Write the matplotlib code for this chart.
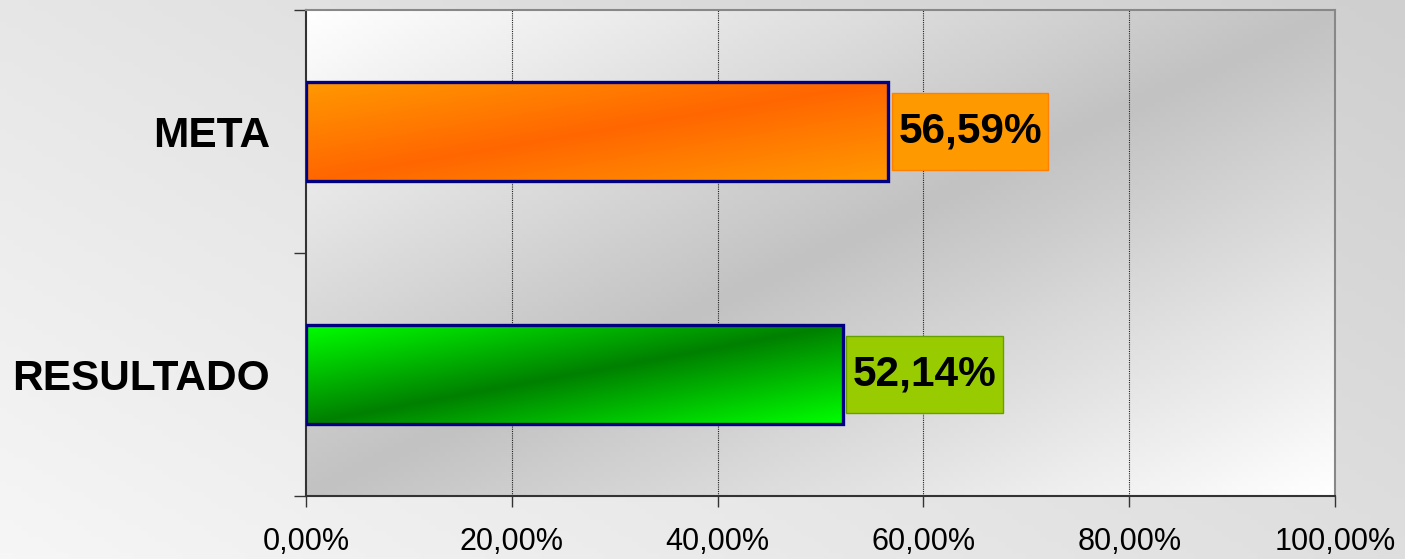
import numpy as np
import matplotlib.pyplot as plt
from matplotlib.colors import LinearSegmentedColormap
from matplotlib.patches import Rectangle

categories = ['RESULTADO', 'META']
values = [52.14, 56.59]
labels = ['52,14%', '56,59%']
bar_light = ['#00ff00', '#ff9900']
bar_dark = ['#008000', '#ff6600']
box_colors = ['#99cc00', '#ff9900']
box_edges = ['#66a000', '#ff8000']
xticks = [0, 20, 40, 60, 80, 100]
xtick_labels = ['0,00%', '20,00%', '40,00%', '60,00%', '80,00%', '100,00%']

plt.rcParams['font.family'] = ['Liberation Sans', 'DejaVu Sans']

fig = plt.figure(figsize=(14.05, 5.59), dpi=100)

# figure background gradient
bg = fig.add_axes([0, 0, 1, 1], zorder=-10)
u, v = np.meshgrid(np.linspace(0, 1, 200), np.linspace(0, 1, 100))
bg_cmap = LinearSegmentedColormap.from_list('bg', ['#f6f6f6', '#cfcfcf'])
bg.imshow(0.6 * u + 0.4 * v, cmap=bg_cmap, origin='lower', aspect='auto',
          extent=[0, 1, 0, 1], vmin=0, vmax=1)
bg.axis('off')

ax = fig.add_axes([306 / 1405, 1 - 496 / 559, 1029 / 1405, 486 / 559])
ax.set_xlim(0, 100)
ax.set_ylim(0, 2)

# plot area gradient: white corners, gray diagonal band
t = np.abs(u - v)
area_cmap = LinearSegmentedColormap.from_list('area', ['#c2c2c2', '#ffffff'])
ax.imshow(t, cmap=area_cmap, origin='lower', aspect='auto',
          extent=[0, 100, 0, 2], vmin=0, vmax=1, zorder=0)

for x in xticks[1:-1]:
    ax.axvline(x, color='#222222', lw=0.8, ls=(0, (1, 1)), zorder=1)

ypos = [0.5, 1.5]
h = 0.41
for y, val, lab, cl, cd, bc, be in zip(ypos, values, labels, bar_light, bar_dark,
                                       box_colors, box_edges):
    cmap = LinearSegmentedColormap.from_list('b', [cd, cl])
    bars = ax.barh(y, val, height=h, color='none', edgecolor='#000080',
                   linewidth=2.4, zorder=4)
    im = ax.imshow(np.abs(u - v), cmap=cmap, origin='lower', aspect='auto',
                   extent=[0, val, y - h / 2, y + h / 2], vmin=0, vmax=1, zorder=3)
    im.set_clip_path(bars[0])
    x0 = val + 0.35
    w = 15.2
    ax.add_patch(Rectangle((x0, y - 0.16), w, 0.32, facecolor=bc, edgecolor=be,
                           linewidth=1, zorder=5, clip_on=False))
    ax.text(x0 + w / 2, y, lab, ha='center', va='center', fontsize=30.5,
            fontweight='bold', color='black', zorder=6)

ax.set_xticks(xticks)
ax.set_xticklabels(xtick_labels, fontsize=22)
ax.tick_params(axis='x', length=8, width=1, pad=14, color='#333333')

ax.set_yticks([0, 1, 2])
ax.set_yticklabels([])
ax.tick_params(axis='y', which='major', length=9, width=1, color='#333333')
ax.set_yticks(ypos, minor=True)
ax.set_yticklabels(categories, minor=True, fontsize=30.5, fontweight='bold')
ax.tick_params(axis='y', which='minor', length=0, pad=26)

ax.spines['left'].set_color('#333333')
ax.spines['bottom'].set_color('#333333')
ax.spines['top'].set_color('#888888')
ax.spines['right'].set_color('#888888')
for s in ax.spines.values():
    s.set_linewidth(1.5)

fig.savefig('out.png', dpi=100)
